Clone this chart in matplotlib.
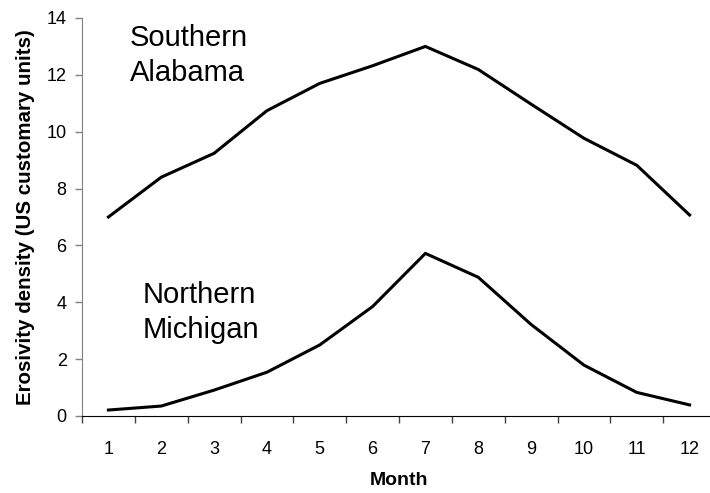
import numpy as np
import matplotlib
matplotlib.use("Agg")
import matplotlib.pyplot as plt

plt.rcParams['font.family'] = ['Liberation Sans', 'DejaVu Sans']

# monthly erosivity density
months = np.arange(1, 13)
alabama = [7.0, 8.4, 9.24, 10.74, 11.7, 12.32, 13.0, 12.19, 10.97, 9.77, 8.82, 7.07]
michigan = [0.21, 0.35, 0.91, 1.54, 2.5, 3.85, 5.72, 4.88, 3.22, 1.79, 0.83, 0.39]

fig = plt.figure(figsize=(7.1, 4.93), dpi=100)
ax = fig.add_axes([82 / 710, 77 / 493, 634 / 710, 398 / 493])

ax.plot(months, alabama, color='black', lw=2.2, solid_joinstyle='miter')
ax.plot(months, michigan, color='black', lw=2.2, solid_joinstyle='miter')

# region labels, one text per line
ax.text(1.40, 13.01, "Southern", fontsize=21, va='baseline')
ax.text(1.40, 11.78, "Alabama", fontsize=21, va='baseline')
ax.text(1.64, 3.97, "Northern", fontsize=21, va='baseline')
ax.text(1.64, 2.74, "Michigan", fontsize=21, va='baseline')

ax.set_xlim(0.5, 12.5)
ax.set_ylim(0, 14)
ax.set_yticks(np.arange(0, 15, 2))
ax.set_xticks(months)
ax.set_xticks(np.arange(0.5, 12.5, 1), minor=True)
ax.tick_params(axis='x', which='major', length=0, pad=18, labelsize=13)
ax.tick_params(axis='x', which='minor', length=5, width=1, color='#404040', direction='out')
ax.tick_params(axis='y', length=5, width=1, color='#808080', pad=6, labelsize=13)

for s in ['top', 'right']:
    ax.spines[s].set_visible(False)
ax.spines['left'].set_color('#808080')
ax.spines['bottom'].set_color('black')

ax.set_xlabel("Month", fontsize=14, fontweight='bold', labelpad=10)
ax.set_ylabel("Erosivity density (US customary units)", fontsize=14.8, fontweight='bold', labelpad=8)

fig.savefig("out.png", dpi=100)
